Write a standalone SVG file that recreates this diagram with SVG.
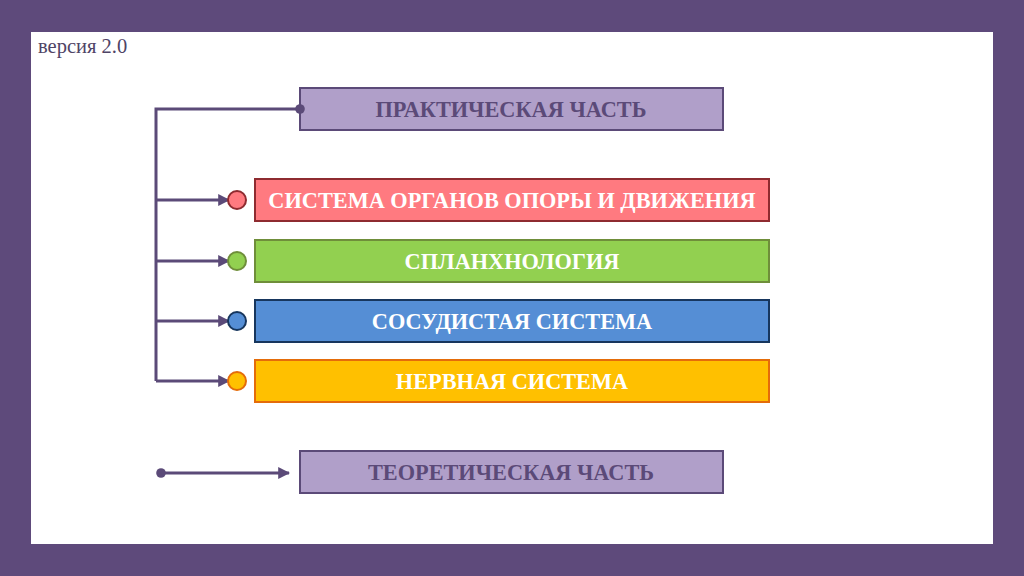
<svg xmlns="http://www.w3.org/2000/svg" width="1024" height="576" viewBox="0 0 1024 576">
<defs>
<style>
.t{font-family:"Liberation Serif","Times New Roman",serif;font-weight:bold;font-size:22.3px;text-anchor:middle;dominant-baseline:central}
.w{fill:#ffffff}
.p{fill:#5B4A78}
.c{stroke:#5B4A78;stroke-width:3;fill:none}
</style>
<marker id="ah" viewBox="0 0 10 10" refX="9" refY="5" markerWidth="4" markerHeight="4" orient="auto" markerUnits="strokeWidth">
<path d="M0,0 L10,5 L0,10 z" fill="#5B4A78"/>
</marker>
<marker id="dot" viewBox="0 0 10 10" refX="5" refY="5" markerWidth="3.2" markerHeight="3.2" markerUnits="strokeWidth">
<circle cx="5" cy="5" r="5" fill="#5B4A78"/>
</marker>
</defs>
<rect x="0" y="0" width="1024" height="576" fill="#5E4A7B"/>
<rect x="31" y="32" width="962" height="512" fill="#ffffff"/>
<text x="38" y="53" style="font-family:'Liberation Serif','Times New Roman',serif;font-size:20.5px;fill:#4F4466">версия 2.0</text>
<g id="practical">
<rect x="300" y="88" width="423" height="42" fill="#B09FC9" stroke="#5B4A78" stroke-width="2"/>
<text class="t p" x="511" y="109">ПРАКТИЧЕСКАЯ ЧАСТЬ</text>
</g>
<g id="connectors">
<path class="c" d="M300,109 H156 V381" marker-start="url(#dot)"/>
<path class="c" d="M156,200 H229" marker-end="url(#ah)"/>
<path class="c" d="M156,261 H229" marker-end="url(#ah)"/>
<path class="c" d="M156,321 H229" marker-end="url(#ah)"/>
<path class="c" d="M156,381 H229" marker-end="url(#ah)"/>
<path class="c" d="M161,473 H289" marker-start="url(#dot)" marker-end="url(#ah)"/>
</g>
<g id="locomotor">
<circle cx="237" cy="200" r="9" fill="#FF7A80" stroke="#8E2B30" stroke-width="2"/>
<rect x="255" y="179" width="514" height="42" fill="#FF7A80" stroke="#8E2B30" stroke-width="2"/>
<text class="t w" x="512" y="200">СИСТЕМА ОРГАНОВ ОПОРЫ И ДВИЖЕНИЯ</text>
</g>
<g id="splanchnology">
<circle cx="237" cy="261" r="9" fill="#92D050" stroke="#6F8E3A" stroke-width="2"/>
<rect x="255" y="240" width="514" height="42" fill="#92D050" stroke="#6F8E3A" stroke-width="2"/>
<text class="t w" x="512" y="261">СПЛАНХНОЛОГИЯ</text>
</g>
<g id="vascular">
<circle cx="237" cy="321" r="9" fill="#558ED5" stroke="#17365D" stroke-width="2"/>
<rect x="255" y="300" width="514" height="42" fill="#558ED5" stroke="#17365D" stroke-width="2"/>
<text class="t w" x="512" y="321">СОСУДИСТАЯ СИСТЕМА</text>
</g>
<g id="nervous">
<circle cx="237" cy="381" r="9" fill="#FFC000" stroke="#E46C0A" stroke-width="2"/>
<rect x="255" y="360" width="514" height="42" fill="#FFC000" stroke="#E46C0A" stroke-width="2"/>
<text class="t w" x="512" y="381">НЕРВНАЯ СИСТЕМА</text>
</g>
<g id="theoretical">
<rect x="300" y="451" width="423" height="42" fill="#B09FC9" stroke="#5B4A78" stroke-width="2"/>
<text class="t p" x="511" y="472">ТЕОРЕТИЧЕСКАЯ ЧАСТЬ</text>
</g>
</svg>
